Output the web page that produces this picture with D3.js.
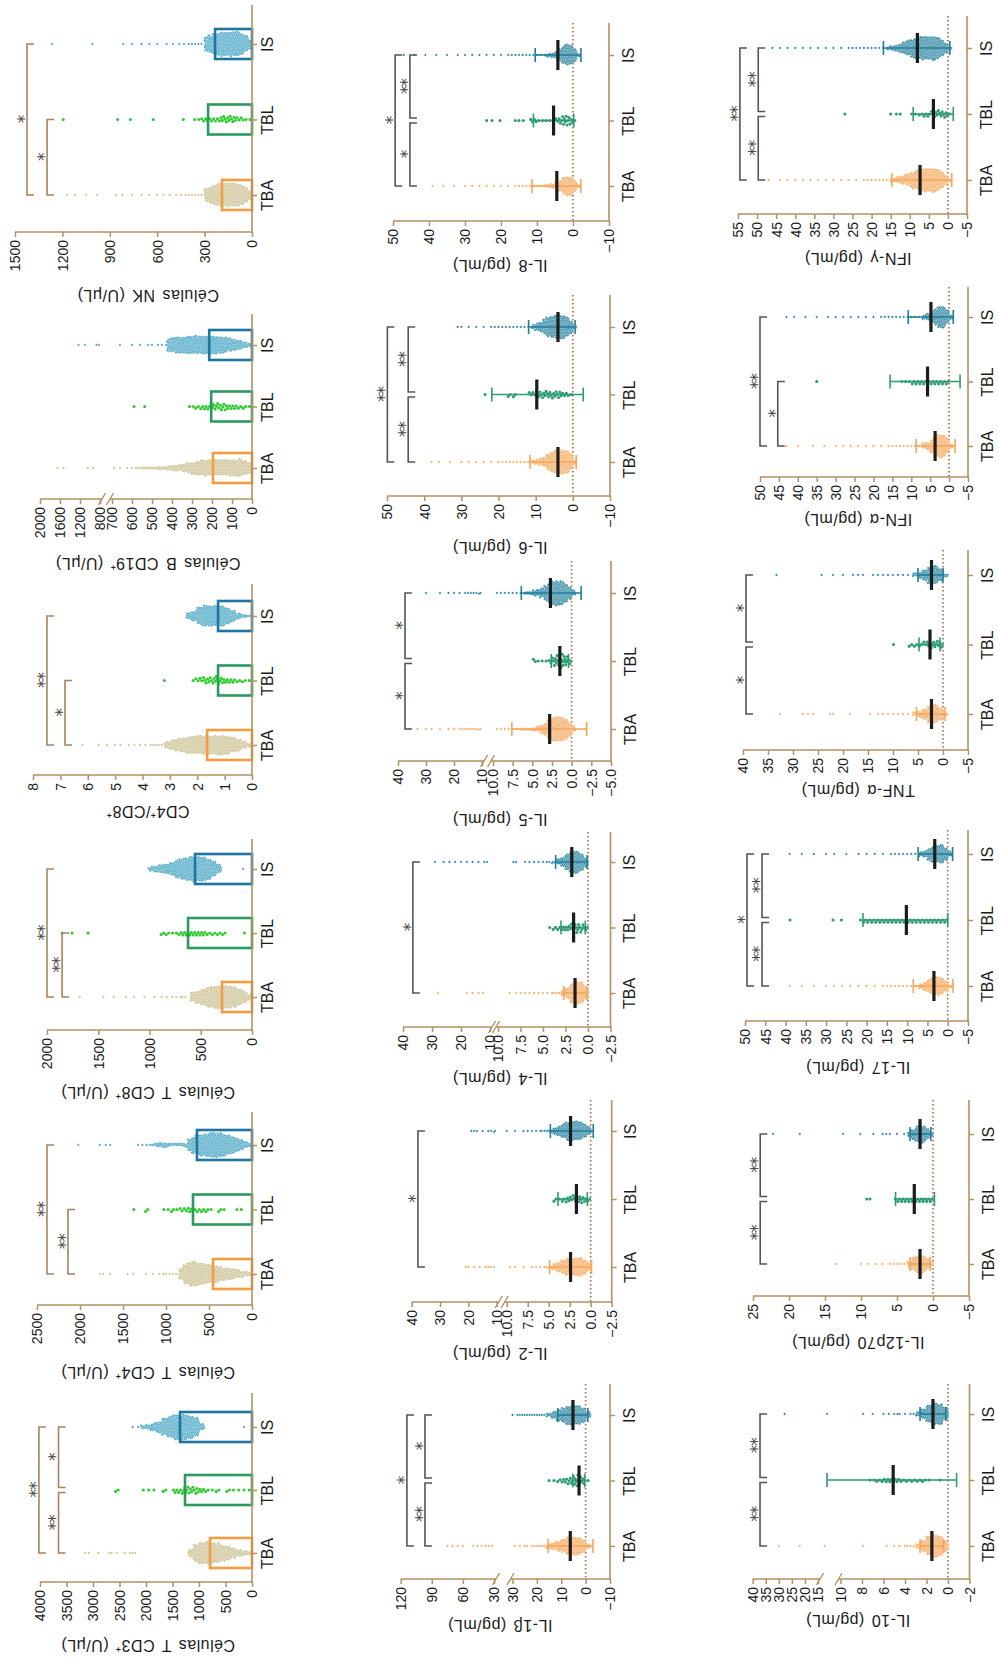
<!DOCTYPE html>
<html>
<head>
<meta charset="utf-8">
<script src="https://cdn.jsdelivr.net/npm/d3@7/dist/d3.min.js"></script>
<style>
  html, body { margin: 0; padding: 0; background: #fff; }
  svg { display: block; }
</style>
</head>
<body>
<svg id="fig" width="999" height="1660"></svg>
<script>
// ---------------------------------------------------------------
// Groups and panel titles
// ---------------------------------------------------------------
const groups = ["TBA", "TBL", "IS"];

const panelTitles = [
  "Células T CD3⁺ (U/μL)", "Células T CD4⁺ (U/μL)", "Células T CD8⁺ (U/μL)",
  "CD4⁺/CD8⁺", "Células B  CD19⁺ (U/μL)", "Células NK (U/μL)",
  "IL-1β (pg/mL)", "IL-2 (pg/mL)", "IL-4 (pg/mL)", "IL-5 (pg/mL)", "IL-6 (pg/mL)", "IL-8 (pg/mL)",
  "IL-10 (pg/mL)", "IL-12p70 (pg/mL)", "IL-17 (pg/mL)", "TNF-α (pg/mL)", "IFN-α (pg/mL)", "IFN-γ (pg/mL)"
];

// ---------------------------------------------------------------
// Value-axis ticks (one list per axis segment; two lists = broken axis)
// ---------------------------------------------------------------
const ticksCD3 = [[0, 500, 1000, 1500, 2000, 2500, 3000, 3500, 4000]];
const ticksCD4 = [[0, 500, 1000, 1500, 2000, 2500]];
const ticksCD8 = [[0, 500, 1000, 1500, 2000]];
const ticksRatio = [[0, 1, 2, 3, 4, 5, 6, 7, 8]];
const ticksCD19 = [[0, 100, 200, 300, 400, 500, 600, 700], [800, 1200, 1600, 2000]];
const ticksNK = [[0, 300, 600, 900, 1200, 1500]];
const ticksIL1b = [[-10, 0, 10, 20, 30], [30, 60, 90, 120]];
const ticksIL2 = [[-2.5, 0, 2.5, 5, 7.5, 10], [10, 20, 30, 40]];
const ticksIL4 = [[-2.5, 0, 2.5, 5, 7.5, 10], [10, 20, 30, 40]];
const ticksIL5 = [[-5, -2.5, 0, 2.5, 5, 7.5, 10], [10, 20, 30, 40]];
const ticksIL6 = [[-10, 0, 10, 20, 30, 40, 50]];
const ticksIL8 = [[-10, 0, 10, 20, 30, 40, 50]];
const ticksIL10 = [[-2, 0, 2, 4, 6, 8, 10], [15, 20, 25, 30, 35, 40]];
const ticksIL12 = [[-5, 0, 5, 10, 15, 20, 25]];
const ticksIL17 = [[-5, 0, 5, 10, 15, 20, 25, 30, 35, 40, 45, 50]];
const ticksTNFa = [[-5, 0, 5, 10, 15, 20, 25, 30, 35, 40]];
const ticksIFNa = [[-5, 0, 5, 10, 15, 20, 25, 30, 35, 40, 45, 50]];
const ticksIFNg = [[-5, 0, 5, 10, 15, 20, 25, 30, 35, 40, 45, 50, 55]];

const valueTicks = [ticksCD3, ticksCD4, ticksCD8, ticksRatio, ticksCD19, ticksNK,
  ticksIL1b, ticksIL2, ticksIL4, ticksIL5, ticksIL6, ticksIL8,
  ticksIL10, ticksIL12, ticksIL17, ticksTNFa, ticksIFNa, ticksIFNg];

const lowerTickFormat = ["d", "d", "d", "d", "d", "d", "d", ".1f", ".1f", ".1f", "d", "d",
  "d", "d", "d", "d", "d", "d"];

// ---------------------------------------------------------------
// Cell counts: bar heights (means) per group
// ---------------------------------------------------------------
const barMeans = [
  [792, 1264, 1358],
  [453, 686, 640],
  [293, 624, 556],
  [1.64, 1.24, 1.24],
  [195, 204, 214],
  [190, 278, 234]
];

// Cytokines: mean and SD whisker ends per group
const cytoMeans = [
  [6.3, 2.7, 5.2], [2.4, 1.7, 2.4], [1.44, 1.6, 1.8], [2.8, 1.5, 2.7], [4.0, 9.7, 4.0], [4.5, 5.4, 4.2],
  [1.5, 5.1, 1.4], [1.8, 2.6, 1.8], [3.4, 10.2, 3.2], [2.3, 2.6, 2.3], [3.7, 5.7, 4.8], [7.3, 3.8, 8.0]
];
const sdLow = [
  [-3.0, 0.4, -0.9], [-0.1, 0.4, -0.3], [0.1, 0.3, 0.1], [-1.9, 0.4, -1.2], [-0.9, -2.8, -0.6], [-2.2, -0.2, -2.2],
  [0.4, -0.8, 0.2], [0.4, -0.2, 0.3], [-1.3, 0.0, -1.2], [-0.4, 0.6, 0.0], [-1.6, -2.9, -1.1], [-1.0, -1.4, -0.5]
];
const sdHigh = [
  [15.4, 5.2, 11.4], [4.9, 3.9, 4.8], [2.7, 3.0, 3.6], [7.6, 2.6, 6.4], [11.5, 21.8, 11.9], [11.4, 11.0, 10.5],
  [2.6, 13.0, 2.6], [3.2, 5.2, 3.2], [8.5, 20.9, 7.3], [5.3, 4.8, 5.0], [8.7, 15.6, 10.8], [14.7, 9.1, 16.9]
];

// ---------------------------------------------------------------
// Individual observations: histogram counts (bins of binStep from binStart)
// plus isolated high/low observations, for TBA, TBL, IS
// ---------------------------------------------------------------
const binStart = [0, 0, 0, 0, 0, 0, -2, 0, 0, -0.5, -1, -2, 0, 0, -1, -1, -1, -1];
const binStep = [100, 50, 50, 0.2, 25, 25, 2, 0.5, 0.5, 0.5, 1, 1, 0.5, 0.5, 1, 1, 1, 1];

const binsCD3 = [
  [7, 10, 14, 20, 27, 34, 41, 44, 48, 48, 37, 17],
  [1, 1, 1, 1, 2, 0, 2, 1, 2, 3, 4, 4, 5, 3, 3, 0, 2, 0, 1, 1, 1, 0, 0, 0, 0, 2],
  [0, 0, 0, 0, 0, 0, 0, 0, 0, 14, 41, 48, 51, 51, 51, 44, 34, 24, 17, 10, 7]
];
const tailCD3 = [[2200, 2250, 2300, 2400, 2550, 2650, 2700, 2900, 3080, 3150], [], [150, 2150, 2250]];

const binsCD4 = [
  [6, 8, 11, 14, 17, 19, 22, 25, 28, 31, 33, 36, 39, 42, 39, 33, 17],
  [0, 0, 1, 1, 0, 0, 1, 2, 0, 1, 2, 2, 2, 2, 3, 2, 2, 1, 2, 1, 1, 0, 0, 0, 2, 0, 0, 1],
  [6, 11, 17, 22, 28, 33, 39, 42, 42, 42, 39, 36, 33, 28, 19, 6, 5, 4, 4, 6, 8, 8, 4, 2, 1, 1, 1]
];
const tailCD4 = [[880, 920, 960, 1000, 1030, 1080, 1150, 1230, 1380, 1450, 1650, 1730, 1770], [], [1650, 1700, 1770, 2020]];

const binsCD8 = [
  [13, 23, 33, 43, 46, 46, 46, 43, 40, 33, 26, 20],
  [0, 1, 0, 0, 0, 2, 2, 2, 2, 3, 3, 3, 3, 3, 2, 1, 2, 2],
  [0, 0, 0, 0, 0, 0, 17, 33, 43, 50, 50, 50, 46, 43, 36, 26, 20, 17, 13, 10]
];
const tailCD8 = [[650, 680, 700, 740, 780, 830, 880, 950, 1050, 1150, 1230, 1350, 1450, 1680], [1600, 1756, 1853], [88, 1010]];

const binsRatio = [
  [9, 17, 26, 34, 40, 42, 42, 42, 42, 42, 40, 37, 31, 26, 20, 14],
  [1, 2, 2, 3, 3, 4, 5, 4, 4, 3, 2],
  [3, 6, 12, 24, 36, 45, 45, 45, 45, 36, 24, 12]
];
const tailRatio = [[3.3, 3.4, 3.5, 3.6, 3.7, 3.9, 4.1, 4.3, 4.5, 4.8, 5.0, 5.3, 5.6, 6.2], [3.2], []];

const binsCD19 = [
  [22, 29, 33, 33, 33, 33, 33, 33, 33, 31, 29, 25, 20, 15, 13, 11, 9, 6, 6, 4, 4, 4, 2],
  [1, 2, 2, 3, 3, 4, 4, 4, 3, 3, 2, 2, 1],
  [7, 12, 17, 21, 26, 31, 33, 35, 35, 35, 35, 35, 35, 33, 31, 29, 24]
];
const tailCD19 = [[580, 600, 625, 660, 690, 940, 1045, 1530, 1650], [536, 590],
  [430, 450, 470, 500, 520, 560, 600, 660, 820, 870, 1100, 1230]];

const binsNK = [
  [13, 23, 30, 36, 38, 38, 38, 36, 33, 30, 25, 18],
  [1, 1, 2, 2, 3, 3, 3, 3, 2, 2, 2, 2, 2, 1, 1],
  [15, 25, 33, 38, 38, 38, 38, 38, 36, 33, 28, 20]
];
const tailNK = [
  [280, 300, 320, 340, 360, 380, 400, 420, 450, 480, 520, 560, 600, 650, 700, 760, 820, 860, 980, 1050, 1120, 1170],
  [435, 625, 770, 850, 1195],
  [280, 300, 320, 340, 360, 380, 400, 430, 460, 500, 540, 600, 650, 700, 760, 815, 1010, 1265]
];

const binsIL1b = [
  [9, 25, 35, 35, 32, 25, 19, 13, 9],
  [1, 4, 6, 5, 4, 3, 2, 1, 1],
  [13, 28, 38, 38, 35, 28, 19, 13, 6]
];
const tailIL1b = [[16, 17, 18, 19, 20, 21, 22, 24, 25, 27, 29, 32, 35, 38, 42, 46, 50, 60, 65, 70, 75], [],
  [16, 17, 18, 19, 20, 21, 22, 23, 24, 25, 26, 27, 28, 30]];

const binsIL2 = [
  [14, 24, 30, 30, 30, 27, 22, 16, 11, 5],
  [2, 3, 4, 4, 3, 3, 2, 1, 2],
  [14, 22, 30, 32, 32, 30, 24, 16, 11, 5]
];
const tailIL2 = [[5.2, 5.5, 6, 6.5, 7, 8, 9, 9.6, 11, 12, 13, 14, 16, 18, 20, 21, 36], [],
  [5.2, 5.5, 5.8, 6, 6.5, 7, 7.5, 8, 9, 10, 10.6, 11, 12, 13, 15, 17, 18, 19]];

const binsIL4 = [
  [23, 38, 41, 35, 20, 9],
  [3, 4, 5, 4, 3, 3, 2, 2, 1],
  [17, 32, 41, 38, 29, 17, 9, 3]
];
const tailIL4 = [[3.2, 3.5, 3.8, 4, 4.5, 5, 5.5, 6, 6.5, 7, 7.5, 8, 8.7, 12.4, 14, 16, 18, 28], [],
  [4, 4.3, 4.6, 5, 5.5, 6, 6.5, 7, 8, 8.3, 11, 12, 14, 16, 18, 20, 22, 24, 26, 29]];

const binsIL5 = [
  [8, 23, 33, 38, 38, 36, 30, 20, 13, 8, 5, 3, 3, 3],
  [0, 3, 5, 6, 5, 4, 2, 1, 1, 1, 2],
  [8, 20, 30, 38, 38, 36, 30, 23, 15, 10, 8, 5, 4]
];
const tailIL5 = [[7, 7.5, 8, 8.5, 9, 9.5, 10.5, 11, 12, 13, 14, 15, 16, 17, 18, 20, 22, 25, 28, 30, 33, 36], [],
  [6.5, 7, 7.5, 8, 8.5, 9, 9.5, 10.5, 11, 12, 13, 14, 15, 16, 18, 20, 22, 25, 30]];

const binsIL6 = [
  [7, 24, 34, 36, 36, 34, 29, 22, 14, 10, 7, 5],
  [0, 1, 2, 2, 3, 3, 3, 3, 3, 3, 3, 2, 2],
  [5, 19, 29, 34, 36, 36, 34, 29, 22, 14, 10, 7]
];
const tailIL6 = [[12, 13, 14, 15, 16, 17, 18, 19, 20, 22, 24, 26, 28, 30, 33, 36, 38], [15.5, 16, 16.8, 17.4, 23.6],
  [12, 13, 14, 15, 16, 17, 18, 19, 20, 21, 22, 24, 26, 28, 30, 31]];

const binsIL8 = [
  [5, 16, 26, 28, 23, 14, 9, 7, 5, 3],
  [0, 1, 3, 4, 4, 3, 2, 1, 1, 1, 1, 1, 2, 2],
  [5, 19, 28, 30, 26, 16, 9, 7, 5, 3]
];
const tailIL8 = [[9, 10, 11, 12, 13, 14, 15, 16, 18, 20, 22, 24, 26, 28, 30, 33, 36, 39], [13.8, 15, 16, 20.3, 22.5, 24],
  [9, 10, 11, 12, 13, 14, 15, 16, 17, 18, 20, 22, 24, 26, 28, 30, 32, 35, 38, 41, 44, 47]];

const binsIL10 = [
  [24, 42, 49, 42, 24, 10],
  [0, 1, 0, 1, 2, 2, 2, 2, 2, 3, 3, 3, 2, 2, 1],
  [28, 45, 49, 38, 21, 10]
];
const tailIL10 = [[3.2, 3.5, 3.8, 4, 4.5, 5, 5.7, 7.9, 13.5, 22, 30], [],
  [3.2, 3.5, 4, 4.5, 4.7, 5, 5.5, 6, 7, 7.9, 13, 27.8]];

const binsIL12 = [
  [7, 16, 23, 26, 23, 16, 9],
  [2, 2, 2, 2, 2, 2, 2, 2, 2, 2, 1],
  [7, 16, 23, 26, 21, 14, 7]
];
const tailIL12 = [[3.6, 4, 4.5, 5, 5.5, 6, 7, 8, 9, 10, 13.4], [8.75, 9.2],
  [4, 5, 6, 6.5, 7, 8.3, 10.1, 12.5, 18.5, 22.2]];

const binsIL17 = [
  [5, 18, 26, 29, 26, 21, 13, 8],
  [0, 2, 2, 2, 2, 2, 2, 2, 2, 2, 2, 2, 2, 2, 2, 2, 2, 2, 2, 2, 2, 2, 1],
  [8, 21, 29, 29, 26, 18, 10, 7]
];
const tailIL17 = [[7, 8, 9, 10, 11, 12, 13, 14, 15, 16, 18, 20, 22, 24, 26, 28, 30, 33, 36, 39], [26.2, 28.3, 38.9],
  [7, 8, 9, 10, 11, 12, 13, 14, 16, 18, 20, 22, 25, 28, 30, 33, 36, 39]];

const binsTNFa = [
  [6, 26, 35, 32, 22, 13, 6],
  [0, 4, 4, 4, 3, 2, 2, 2],
  [6, 26, 35, 32, 22, 13, 6]
];
const tailTNFa = [[6, 7, 8, 9, 10, 11, 12, 13, 14.6, 18.6, 22, 22.6, 26, 27, 28, 32.6], [9.9],
  [6, 7, 8, 9, 10, 11, 12, 13, 14, 16, 17, 18, 20, 22, 24.3, 33.3]];

const binsIFNa = [
  [7, 24, 34, 34, 29, 20, 12, 7],
  [0, 2, 2, 2, 2, 2, 2, 2, 2, 2, 2, 1, 1, 1],
  [7, 22, 32, 32, 24, 15, 10, 6]
];
const tailIFNa = [[7, 8, 9, 10, 11, 12, 13, 14, 15, 16, 18, 20, 22, 24, 26, 28, 30, 33, 36, 40, 43], [35],
  [7, 8, 9, 10, 11, 12, 13, 14, 15, 16, 17, 18, 20, 22, 24, 26, 28, 30, 32, 35, 38, 41, 43]];

const binsIFNg = [
  [5, 15, 25, 32, 37, 37, 37, 34, 32, 27, 22, 17, 12, 10, 7, 5],
  [1, 3, 3, 3, 3, 2, 2, 2, 1, 1, 1],
  [5, 15, 25, 32, 37, 37, 37, 37, 34, 32, 27, 22, 17, 12, 10, 7, 5]
];
const tailIFNg = [[15, 16, 17, 18, 19, 20, 21, 22, 24, 26, 28, 30, 32, 34, 36, 38, 40, 42, 44, 47], [12.5, 13.5, 15, 27],
  [17, 18, 19, 20, 21, 22, 23, 24, 25, 26, 28, 30, 32, 34, 36, 38, 40, 42, 44, 46]];

const panelBins = [binsCD3, binsCD4, binsCD8, binsRatio, binsCD19, binsNK,
  binsIL1b, binsIL2, binsIL4, binsIL5, binsIL6, binsIL8,
  binsIL10, binsIL12, binsIL17, binsTNFa, binsIFNa, binsIFNg];
const panelTails = [tailCD3, tailCD4, tailCD8, tailRatio, tailCD19, tailNK,
  tailIL1b, tailIL2, tailIL4, tailIL5, tailIL6, tailIL8,
  tailIL10, tailIL12, tailIL17, tailTNFa, tailIFNa, tailIFNg];

// ---------------------------------------------------------------
// Significance brackets: [group a, group b, level, label]
// ---------------------------------------------------------------
const panelBrackets = [
  [[0, 1, 3650, "**"], [1, 2, 3650, "*"], [0, 2, 4020, "**"]],
  [[0, 1, 2140, "**"], [0, 2, 2384, "**"]],
  [[0, 1, 1853, "**"], [0, 2, 2000, "**"]],
  [[0, 1, 6.83, "*"], [0, 2, 7.49, "**"]],
  [],
  [[0, 1, 1297, "*"], [0, 2, 1424, "*"]],
  [[0, 1, 96.6, "**"], [1, 2, 96.6, "*"], [0, 2, 114, "*"]],
  [[0, 2, 37.8, "*"]],
  [[0, 2, 36.6, "*"]],
  [[0, 1, 37.5, "*"], [1, 2, 37.5, "*"]],
  [[0, 1, 44.3, "**"], [1, 2, 44.3, "**"], [0, 2, 49.9, "**"]],
  [[0, 1, 45.3, "*"], [1, 2, 45.3, "**"], [0, 2, 49.4, "*"]],
  [[0, 1, 37.2, "**"], [1, 2, 37.2, "**"]],
  [[0, 1, 24.0, "**"], [1, 2, 24.0, "**"]],
  [[0, 1, 45.8, "**"], [1, 2, 45.8, "**"], [0, 2, 49.5, "*"]],
  [[0, 1, 39.4, "*"], [1, 2, 39.4, "*"]],
  [[0, 1, 45.3, "*"], [0, 2, 50, "**"]],
  [[0, 1, 49.7, "**"], [1, 2, 49.7, "**"], [0, 2, 54.5, "**"]]
];

// ---------------------------------------------------------------
// Page geometry (value axes run right-to-left, groups bottom-to-top)
// segs: [value0, value1, px0, px1] per axis segment
// ---------------------------------------------------------------
const layout = [
  { axisY: 1582, yA: 1553, yC: 1427, top: 1393, titleY: 1646, segs: [[0, 4000, 252, 40]] },
  { axisY: 1305, yA: 1274, yC: 1145, top: 1112, titleY: 1373, segs: [[0, 2500, 252, 37]] },
  { axisY: 1030, yA: 997, yC: 869, top: 839, titleY: 1093, segs: [[0, 2000, 252, 47]] },
  { axisY: 775, yA: 745, yC: 616, top: 584, titleY: 812, segs: [[0, 8, 252, 33]] },
  { axisY: 499, yA: 468, yC: 345, top: 314, titleY: 564, segs: [[0, 700, 252, 112], [800, 2000, 100, 40]] },
  { axisY: 232, yA: 195, yC: 44, top: 5, titleY: 296, segs: [[0, 1500, 252, 15]] },
  { axisY: 1579, yA: 1546, yC: 1415, top: 1384, titleY: 1626, segs: [[-10, 30, 610, 512.5], [30, 120, 494, 400.7]] },
  { axisY: 1302, yA: 1267, yC: 1131, top: 1100, titleY: 1354, segs: [[-2.5, 10, 611.7, 506.7], [10, 40, 496.7, 411.7]] },
  { axisY: 1027, yA: 993, yC: 862, top: 832, titleY: 1079, segs: [[-2.5, 10, 610.5, 498], [10, 40, 490, 403]] },
  { axisY: 761, yA: 729, yC: 593, top: 561, titleY: 820, segs: [[-5, 10, 611, 493], [10, 40, 482, 398]] },
  { axisY: 496, yA: 462, yC: 327, top: 295, titleY: 548, segs: [[-10, 50, 610, 387]] },
  { axisY: 221, yA: 186, yC: 55, top: 23, titleY: 266, segs: [[-10, 50, 609, 393]] },
  { axisY: 1579, yA: 1546, yC: 1414, top: 1384, titleY: 1621, segs: [[-2, 10, 969.5, 840.5], [15, 40, 818, 752.7]] },
  { axisY: 1296, yA: 1264, yC: 1134, top: 1100, titleY: 1343, segs: [[-5, 25, 969, 753]] },
  { axisY: 1021, yA: 986, yC: 854, top: 830, titleY: 1068, segs: [[-5, 50, 968, 745]] },
  { axisY: 750, yA: 714, yC: 575, top: 550, titleY: 791, segs: [[-5, 40, 968, 743]] },
  { axisY: 477, yA: 446, yC: 317, top: 287, titleY: 520, segs: [[-5, 50, 968, 760]] },
  { axisY: 214, yA: 180, yC: 48, top: 16, titleY: 259, segs: [[-5, 55, 967, 738]] }
];

const titleX = [148, 500, 858];
const catLabelOffset = [15, 19, 19];

// ---------------------------------------------------------------
// Styles
// ---------------------------------------------------------------
const FONT = "'Liberation Sans', Arial, sans-serif";
const axisColor = "#b39162";
const textColor = "#1a1a1a";
const cellDots = ["#c7bd8b", "#2fcc2f", "#3a9fc0"];
const cellBars = ["#f59b40", "#2a9a5e", "#1d76a0"];
const cytoDots = ["#f8a557", "#2c9d73", "#1e7e9c"];
const bracketColors = ["#a8845a", "#555555", "#555555"];

// beeswarm placement: each dot goes to the nearest free offset from the group line
function dodge(xs, d) {
  const out = [];
  const d2 = d * d;
  for (let i = 0; i < xs.length; i++) {
    const x = xs[i];
    const near = [];
    for (let j = out.length - 1; j >= 0; j--) {
      if (Math.abs(out[j].x - x) >= d) break;
      near.push(out[j]);
    }
    const cands = [0];
    near.forEach(p => {
      const h = Math.sqrt(Math.max(0, d2 - (p.x - x) * (p.x - x)));
      cands.push(p.y + h, p.y - h);
    });
    cands.sort((a, b) => Math.abs(a) - Math.abs(b));
    let yy = 0;
    for (const c of cands) {
      if (near.every(p => (p.x - x) * (p.x - x) + (p.y - c) * (p.y - c) >= d2 - 1e-4)) { yy = c; break; }
    }
    out.push({ x, y: yy });
  }
  return out;
}

const fig = d3.select("#fig");

layout.forEach((L, pi) => {
  const col = Math.floor(pi / 6);
  const isCell = col === 0;
  const g = fig.append("g").attr("class", "panel");

  // value scale (piecewise when the axis is broken)
  const dom = [], rng = [];
  L.segs.forEach((s, i) => {
    let d0 = s[0];
    if (i > 0 && d0 <= dom[dom.length - 1]) d0 = dom[dom.length - 1] + 1e-6;
    dom.push(d0, s[1]);
    rng.push(s[2], s[3]);
  });
  const x = d3.scaleLinear().domain(dom).range(rng);
  const catX = L.segs[0][2];
  const y = d3.scalePoint().domain(groups).range([L.yA, L.yC]);

  // zero reference line for cytokines
  if (!isCell) {
    g.append("line")
      .attr("x1", x(0)).attr("x2", x(0))
      .attr("y1", L.top).attr("y2", L.axisY)
      .attr("stroke", "#ad6a35").attr("stroke-width", 1.6)
      .attr("stroke-dasharray", "1.4,2.6");
  }

  // individual observations
  const bins = panelBins[pi];
  const tails = panelTails[pi];
  groups.forEach((grp, gi) => {
    const vals = [];
    bins[gi].forEach((n, k) => {
      for (let i = 0; i < n; i++) vals.push(binStart[pi] + binStep[pi] * (k + (i + 0.5) / n));
    });
    tails[gi].forEach(v => vals.push(v));
    vals.sort((a, b) => a - b);
    const sparse = gi === 1;
    const dd = sparse ? 3.0 : 1.55;
    const pts = dodge(vals.map(v => x(v)), dd);
    const color = isCell ? cellDots[gi] : cytoDots[gi];
    g.append("g").selectAll("circle").data(pts).join("circle")
      .attr("cx", p => p.x)
      .attr("cy", p => y(grp) + p.y)
      .attr("r", sparse ? 1.55 : 1.15)
      .attr("fill", color)
      .attr("stroke", sparse ? "none" : "#ffffff")
      .attr("stroke-width", 0.3);
  });

  if (isCell) {
    // open bars at the group means
    const means = barMeans[pi];
    g.append("g").selectAll("rect").data(groups).join("rect")
      .attr("x", (d, i) => x(means[i]))
      .attr("width", (d, i) => catX - x(means[i]))
      .attr("y", d => y(d) - 15)
      .attr("height", 30)
      .attr("fill", "none")
      .attr("stroke", (d, i) => cellBars[i])
      .attr("stroke-width", 2.6);
  } else {
    const ci = pi - 6;
    groups.forEach((grp, gi) => {
      const yc = y(grp);
      const col2 = cytoDots[gi];
      const lo = x(sdLow[ci][gi]), hi = x(sdHigh[ci][gi]);
      g.append("line").attr("x1", lo).attr("x2", hi).attr("y1", yc).attr("y2", yc)
        .attr("stroke", col2).attr("stroke-width", 1.6);
      [lo, hi].forEach(px => {
        g.append("line").attr("x1", px).attr("x2", px).attr("y1", yc - 7).attr("y2", yc + 7)
          .attr("stroke", col2).attr("stroke-width", 1.6);
      });
      const mx = x(cytoMeans[ci][gi]);
      g.append("line").attr("x1", mx).attr("x2", mx).attr("y1", yc - 15).attr("y2", yc + 15)
        .attr("stroke", "#1c1c1c").attr("stroke-width", 3.2);
    });
  }

  // value axis (segments)
  const broken = L.segs.length > 1;
  L.segs.forEach((s, si) => {
    const sx = d3.scaleLinear().domain([s[0], s[1]]).range([s[2], s[3]]);
    const fmt = d3.format(si === 0 ? lowerTickFormat[pi] : "d");
    const ax = d3.axisBottom(sx).tickValues(valueTicks[pi][si]).tickSize(5).tickFormat(fmt);
    const ag = g.append("g").attr("transform", `translate(0,${L.axisY})`).call(ax);
    ag.select(".domain").remove();
    ag.selectAll(".tick line").attr("stroke", axisColor).attr("stroke-width", 1.5);
    ag.selectAll(".tick text")
      .attr("transform", "rotate(-90)")
      .attr("x", -8).attr("y", 0).attr("dy", "0.35em")
      .attr("text-anchor", "end")
      .attr("fill", textColor)
      .attr("font-size", 14)
      .attr("font-family", FONT);
    let a = s[2], b = s[3];
    if (broken) {
      if (si === 0) a = catX, b = s[3] - 2;
      else a = s[2] + 2;
    }
    g.append("line").attr("x1", a).attr("x2", b).attr("y1", L.axisY).attr("y2", L.axisY)
      .attr("stroke", axisColor).attr("stroke-width", 1.6);
    if (broken) {
      const bx = si === 0 ? b : a;
      g.append("line").attr("x1", bx - 3.5).attr("x2", bx + 3.5)
        .attr("y1", L.axisY + 6).attr("y2", L.axisY - 6)
        .attr("stroke", axisColor).attr("stroke-width", 1.4);
    }
  });

  // group axis
  g.append("line").attr("x1", catX).attr("x2", catX).attr("y1", L.top).attr("y2", L.axisY + 0.8)
    .attr("stroke", axisColor).attr("stroke-width", 1.6);
  const cax = d3.axisRight(y).tickSize(5).tickSizeOuter(0);
  const cg = g.append("g").attr("transform", `translate(${catX},0)`).call(cax);
  cg.select(".domain").remove();
  cg.selectAll(".tick line").attr("stroke", axisColor).attr("stroke-width", 1.5);
  cg.selectAll(".tick text")
    .attr("transform", "rotate(-90)")
    .attr("x", 0).attr("y", catLabelOffset[col]).attr("dy", "0.35em")
    .attr("text-anchor", "middle")
    .attr("fill", textColor)
    .attr("font-size", 16)
    .attr("font-family", FONT);

  // axis title (upside down)
  g.append("text")
    .attr("x", titleX[col]).attr("y", L.titleY)
    .attr("transform", `rotate(180,${titleX[col]},${L.titleY})`)
    .attr("text-anchor", "middle").attr("dy", "0.35em")
    .attr("font-size", 16).attr("font-family", FONT)
    .attr("letter-spacing", 0.5).attr("word-spacing", 2)
    .attr("fill", textColor)
    .text(panelTitles[pi]);

  // significance brackets
  const br = panelBrackets[pi];
  br.forEach(([ga, gb, level, label]) => {
    const bx = x(level);
    let ya = y(groups[ga]), yb = y(groups[gb]);
    const shares = (gidx) => br.some(o => o[2] === level &&
      !(o[0] === ga && o[1] === gb) && (o[0] === gidx || o[1] === gidx));
    if (ga === 1 && shares(1)) ya += (yb > ya ? 2.5 : -2.5);
    if (gb === 1 && shares(1)) yb += (ya > yb ? 2.5 : -2.5);
    g.append("path")
      .attr("d", `M${bx + 7},${ya}H${bx}V${yb}H${bx + 7}`)
      .attr("fill", "none")
      .attr("stroke", bracketColors[col])
      .attr("stroke-width", 1.6);
    const sy = (ya + yb) / 2;
    const sxp = bx - 10;
    g.append("text")
      .attr("x", sxp).attr("y", sy)
      .attr("transform", `rotate(-90,${sxp},${sy})`)
      .attr("text-anchor", "middle").attr("dy", "0.75em")
      .attr("font-size", 17).attr("font-family", "'DejaVu Sans', sans-serif")
      .attr("letter-spacing", -1)
      .attr("fill", "#4a4a4a")
      .text(label);
  });
});
</script>
</body>
</html>
